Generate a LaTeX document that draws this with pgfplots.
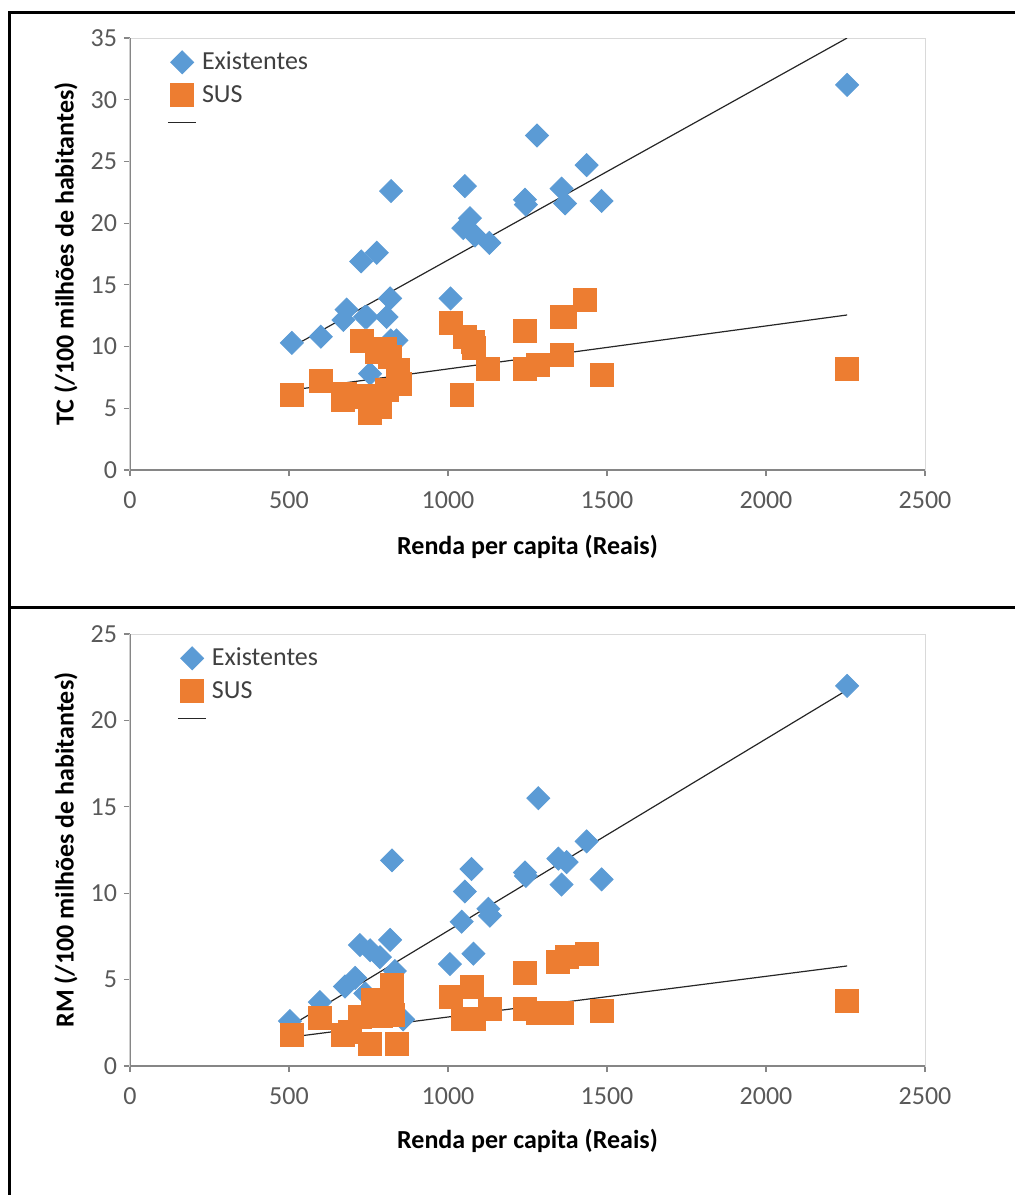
\documentclass[border=0pt]{standalone}
\usepackage{pgfplots}
\pgfplotsset{compat=1.18}
\usepackage{fontspec}
\setmainfont{Carlito}
\definecolor{exblue}{HTML}{5B9BD5}
\definecolor{susorange}{HTML}{ED7D31}
\definecolor{axgray}{HTML}{868686}
\definecolor{boxgray}{HTML}{D9D9D9}
\definecolor{ticktext}{HTML}{595959}
\definecolor{legtext}{HTML}{404040}

\pgfplotsset{
  myaxis/.style={
    scale only axis, width=397.5pt, height=216pt,
    xmin=0, xmax=2500, xtick={0,500,1000,1500,2000,2500},
    ymin=0,
    axis line style={draw=boxgray, line width=0.5pt},
    xtick pos=left, ytick pos=left,
    tick align=outside, major tick length=3pt,
    tick style={draw=axgray, line width=0.6pt},
    tick label style={font=\fontsize{13}{15}\selectfont, text=ticktext},
    xticklabel style={yshift=-4.5pt},
    /pgf/number format/assume math mode=true,
    /pgf/number format/1000 sep={},
    label style={font=\fontsize{13}{15}\selectfont\bfseries, text=black},
    xlabel={Renda per capita (Reais)},
    legend cell align=left,
    legend image code/.code={\draw[mark repeat=2,mark phase=2,#1] plot coordinates {(0cm,0cm) (0.25cm,0cm) (0.5cm,0cm)};},
    legend style={draw=none, fill=none, anchor=north west, inner sep=0pt,
      font=\fontsize{13}{15}\selectfont, text=legtext,
      nodes={inner sep=1pt}, row sep=4.3pt, column sep=1.5pt},
  },
  exstyle/.style={only marks, mark=square*, mark size=4.07pt, mark options={rotate=45, fill=exblue, draw=exblue}},
  susstyle/.style={only marks, mark=square*, mark size=5.75pt, mark options={fill=susorange, draw=susorange}},
  trend/.style={no marks, draw=black!85, line width=0.6pt},
}

\begin{document}
\begin{tikzpicture}
\useasboundingbox (0,0) rectangle (507.5pt,-597.5pt);
\draw[line width=1.5pt] (4.5pt,-597.5pt) -- (4.5pt,-6pt) -- (510pt,-6pt);
\draw[line width=1.5pt] (4.5pt,-303.5pt) -- (510pt,-303.5pt);

% ---------- top chart ----------
\begin{axis}[myaxis, at={(65pt,-235pt)}, anchor=south west,
  ymax=35, ytick={0,5,...,35},
  ylabel={TC (/100 milhões de habitantes)},
  xlabel style={at={(axis description cs:0.5,-0.178)}, anchor=center},
  ylabel style={at={(axis description cs:-0.0805,0.5)}, anchor=center},
  legend style={at={(0.0465,0.9735)}},
]
\addplot[exstyle] coordinates {
(509,10.3) (600,10.8) (671,12.15) (681,13.0) (727,16.9) (739,12.4) (745,12.4)
(755,7.8) (776,17.6) (807,12.4) (818,13.9) (820,10.5) (821,22.6) (838,10.5)
(1008,13.9) (1048,19.6) (1053,23.0) (1069,20.4) (1085,19.0) (1130,18.4)
(1242,21.9) (1245,21.5) (1280,27.1) (1357,22.8) (1368,21.6) (1436,24.7)
(1483,21.8) (2255,31.2)};
\addlegendentry{Existentes}
\addplot[susstyle] coordinates {
(509,6.1) (600,7.2) (671,5.7) (676,6.2) (700,5.9) (728,10.5) (745,6.0)
(755,4.6) (776,9.6) (786,5.1) (800,9.8) (807,6.5) (818,9.2) (844,8.1) (849,7.0)
(1008,11.9) (1045,6.1) (1053,10.8) (1077,10.4) (1080,9.9) (1127,8.2)
(1242,11.3) (1242,8.2) (1284,8.5) (1357,12.4) (1368,12.4) (1357,9.3)
(1431,13.8) (1483,7.7) (2255,8.2)};
\addlegendentry{SUS}
\addplot[trend] coordinates {(509,9.97) (2255,35.0)};
\addlegendentry{\rule{0pt}{3pt}}
\addplot[trend, forget plot] coordinates {(509,6.48) (2255,12.56)};
\draw[axgray, line width=0.6pt] (rel axis cs:0,1) -- (rel axis cs:0,0) -- (rel axis cs:1,0);
\end{axis}

% ---------- bottom chart ----------
\begin{axis}[myaxis, at={(65pt,-533pt)}, anchor=south west,
  ymax=25, ytick={0,5,...,25},
  ylabel={RM (/100 milhões de habitantes)},
  xlabel style={at={(axis description cs:0.5,-0.174)}, anchor=center},
  ylabel style={at={(axis description cs:-0.0805,0.5)}, anchor=center},
  legend style={at={(0.059,0.9735)}},
]
\addplot[exstyle] coordinates {
(503,2.6) (597,3.7) (676,4.6) (708,5.1) (723,7.0) (740,4.2) (755,6.7) (786,6.3)
(818,7.3) (824,11.9) (833,5.5) (859,2.7) (1006,5.9) (1043,8.35) (1053,10.1)
(1074,11.4) (1080,6.5) (1127,9.1) (1132,8.7) (1242,11.2) (1245,11.0)
(1284,15.5) (1347,12.0) (1373,11.8) (1357,10.5) (1436,13.0) (1483,10.8)
(2255,22.0)};
\addlegendentry{Existentes}
\addplot[susstyle] coordinates {
(508,1.8) (597,2.8) (671,1.8) (690,2.0) (723,2.85) (755,1.3) (765,3.8)
(790,2.9) (823,4.7) (823,3.6) (828,2.95) (838,1.3) (1008,4.0) (1048,2.7)
(1074,4.6) (1080,2.7) (1132,3.3) (1242,5.4) (1242,3.3) (1284,3.1)
(1347,6.0) (1357,3.05) (1373,6.3) (1436,6.5) (1483,3.2) (2255,3.75)};
\addlegendentry{SUS}
\addplot[trend] coordinates {(509,2.37) (2255,21.76)};
\addlegendentry{\rule{0pt}{3pt}}
\addplot[trend, forget plot] coordinates {(509,1.68) (2255,5.79)};
\draw[axgray, line width=0.6pt] (rel axis cs:0,1) -- (rel axis cs:0,0) -- (rel axis cs:1,0);
\end{axis}
\end{tikzpicture}
\end{document}
